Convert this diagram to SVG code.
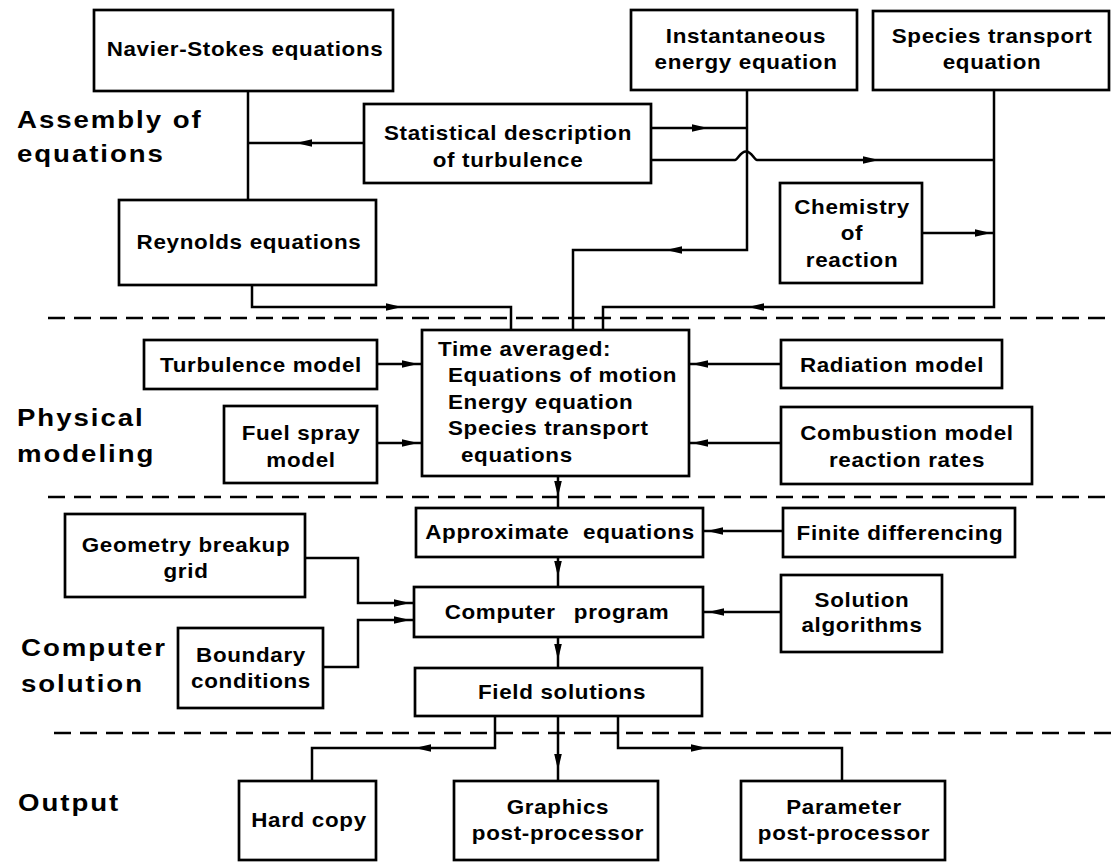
<svg xmlns="http://www.w3.org/2000/svg" width="1111" height="862" viewBox="0 0 1111 862">
  <style>
    .box { fill: #fff; stroke: #000; stroke-width: 2.7; }
    .t { font-family: "Liberation Sans", Arial, Helvetica, sans-serif; font-weight: bold; font-size: 20px; letter-spacing: 0.6px; fill: #000; text-anchor: middle; }
    .tl { text-anchor: start; }
    .lbl { font-family: "Liberation Sans", Arial, Helvetica, sans-serif; font-weight: bold; font-size: 24px; letter-spacing: 1.7px; fill: #000; }
    .ln { fill: none; stroke: #000; stroke-width: 2.5; }
    .dash { fill: none; stroke: #000; stroke-width: 2.5; stroke-dasharray: 17 9; }
    .ah { fill: #000; }
  </style>
  <defs>
    <!-- arrowhead, tip at the origin, pointing along +x -->
    <path id="ah" d="M0,0 L-16,-3.8 L-16,3.8 Z"/>
  </defs>
  <rect width="1111" height="862" fill="#fff"/>

  <!-- section dividers -->
  <g id="dividers">
    <line class="dash" x1="48" y1="318" x2="1111" y2="318"/>
    <line class="dash" x1="48" y1="497" x2="1111" y2="497"/>
    <line class="dash" x1="54" y1="733" x2="1111" y2="733"/>
  </g>

  <!-- section labels (wide grotesque: glyphs stretched horizontally) -->
  <g id="labels">
    <text class="lbl" transform="translate(17,128) scale(1.15 1)">Assembly of</text>
    <text class="lbl" transform="translate(17,162) scale(1.15 1)">equations</text>
    <text class="lbl" transform="translate(17,426) scale(1.15 1)">Physical</text>
    <text class="lbl" transform="translate(17,462) scale(1.15 1)">modeling</text>
    <text class="lbl" transform="translate(21,656) scale(1.15 1)">Computer</text>
    <text class="lbl" transform="translate(21,692) scale(1.15 1)">solution</text>
    <text class="lbl" transform="translate(18,811) scale(1.15 1)">Output</text>
  </g>

  <!-- connectors -->
  <g id="connectors">
    <path class="ln" d="M248,91 V200"/>
    <path class="ln" d="M364,143 H248"/>
    <path class="ln" d="M651,128 H747"/>
    <path class="ln" d="M747,90 V250 H573 V330"/>
    <path class="ln" d="M651,160 H735 C738,160 740,151.5 746,151.5 C752,151.5 754,160 757,160 H994"/>
    <path class="ln" d="M922,233 H994"/>
    <path class="ln" d="M994,90 V307 H603 V330"/>
    <path class="ln" d="M252,285 V307 H511 V330"/>
    <path class="ln" d="M377,364 H422"/>
    <path class="ln" d="M377,443 H422"/>
    <path class="ln" d="M781,364 H689"/>
    <path class="ln" d="M781,443 H689"/>
    <path class="ln" d="M558,476 V508"/>
    <path class="ln" d="M783,531 H703"/>
    <path class="ln" d="M558,557 V587"/>
    <path class="ln" d="M305,558 H358 V603 H414"/>
    <path class="ln" d="M323,667 H358 V620 H414"/>
    <path class="ln" d="M781,612 H703"/>
    <path class="ln" d="M558,637 V668"/>
    <path class="ln" d="M495,716 V748 H312 V780"/>
    <path class="ln" d="M558,716 V781"/>
    <path class="ln" d="M618,716 V748 H842 V781"/>

    <use href="#ah" class="ah" transform="translate(296,143) rotate(180)"/>
    <use href="#ah" class="ah" transform="translate(708,128)"/>
    <use href="#ah" class="ah" transform="translate(879,160)"/>
    <use href="#ah" class="ah" transform="translate(991,233)"/>
    <use href="#ah" class="ah" transform="translate(666,250) rotate(180)"/>
    <use href="#ah" class="ah" transform="translate(748,307) rotate(180)"/>
    <use href="#ah" class="ah" transform="translate(402,307)"/>
    <use href="#ah" class="ah" transform="translate(418,364)"/>
    <use href="#ah" class="ah" transform="translate(418,443)"/>
    <use href="#ah" class="ah" transform="translate(692,364) rotate(180)"/>
    <use href="#ah" class="ah" transform="translate(692,443) rotate(180)"/>
    <use href="#ah" class="ah" transform="translate(558,497) rotate(90)"/>
    <use href="#ah" class="ah" transform="translate(707,531) rotate(180)"/>
    <use href="#ah" class="ah" transform="translate(558,577) rotate(90)"/>
    <use href="#ah" class="ah" transform="translate(410,603)"/>
    <use href="#ah" class="ah" transform="translate(410,620)"/>
    <use href="#ah" class="ah" transform="translate(708,612) rotate(180)"/>
    <use href="#ah" class="ah" transform="translate(558,660) rotate(90)"/>
    <use href="#ah" class="ah" transform="translate(415,748) rotate(180)"/>
    <use href="#ah" class="ah" transform="translate(558,770) rotate(90)"/>
    <use href="#ah" class="ah" transform="translate(707,748)"/>
  </g>

  <!-- nodes -->
  <g id="navier-stokes">
    <rect class="box" x="94" y="10" width="299" height="81"/>
    <text class="t" transform="translate(245,56) scale(1.12 1)">Navier-Stokes equations</text>
  </g>
  <g id="instantaneous-energy">
    <rect class="box" x="631" y="10" width="226" height="80"/>
    <text class="t" transform="translate(746,43) scale(1.12 1)">Instantaneous</text>
    <text class="t" transform="translate(746,69) scale(1.12 1)">energy equation</text>
  </g>
  <g id="species-transport">
    <rect class="box" x="873" y="11" width="236" height="79"/>
    <text class="t" transform="translate(992,43) scale(1.12 1)">Species transport</text>
    <text class="t" transform="translate(992,69) scale(1.12 1)">equation</text>
  </g>
  <g id="statistical-turbulence">
    <rect class="box" x="364" y="104" width="287" height="79"/>
    <text class="t" transform="translate(508,140) scale(1.12 1)">Statistical description</text>
    <text class="t" transform="translate(508,167) scale(1.12 1)">of turbulence</text>
  </g>
  <g id="reynolds">
    <rect class="box" x="119" y="200" width="257" height="85"/>
    <text class="t" transform="translate(249,249) scale(1.12 1)">Reynolds equations</text>
  </g>
  <g id="chemistry">
    <rect class="box" x="780" y="183" width="142" height="100"/>
    <text class="t" transform="translate(852,214) scale(1.12 1)">Chemistry</text>
    <text class="t" transform="translate(852,240) scale(1.12 1)">of</text>
    <text class="t" transform="translate(852,267) scale(1.12 1)">reaction</text>
  </g>
  <g id="turbulence-model">
    <rect class="box" x="144" y="340" width="233" height="49"/>
    <text class="t" transform="translate(261,372) scale(1.12 1)">Turbulence model</text>
  </g>
  <g id="fuel-spray">
    <rect class="box" x="224" y="406" width="153" height="77"/>
    <text class="t" transform="translate(301,440) scale(1.12 1)">Fuel spray</text>
    <text class="t" transform="translate(301,467) scale(1.12 1)">model</text>
  </g>
  <g id="time-averaged">
    <rect class="box" x="422" y="330" width="267" height="146"/>
    <text class="t tl" transform="translate(438,356) scale(1.12 1)">Time averaged:</text>
    <text class="t tl" transform="translate(448,382) scale(1.12 1)">Equations of motion</text>
    <text class="t tl" transform="translate(448,409) scale(1.12 1)">Energy equation</text>
    <text class="t tl" transform="translate(448,435) scale(1.12 1)">Species transport</text>
    <text class="t tl" transform="translate(461,462) scale(1.12 1)">equations</text>
  </g>
  <g id="radiation-model">
    <rect class="box" x="781" y="340" width="221" height="48"/>
    <text class="t" transform="translate(892,372) scale(1.12 1)">Radiation model</text>
  </g>
  <g id="combustion-model">
    <rect class="box" x="781" y="407" width="251" height="77"/>
    <text class="t" transform="translate(907,440) scale(1.12 1)">Combustion model</text>
    <text class="t" transform="translate(907,467) scale(1.12 1)">reaction rates</text>
  </g>
  <g id="geometry">
    <rect class="box" x="65" y="514" width="240" height="83"/>
    <text class="t" transform="translate(186,552) scale(1.12 1)">Geometry breakup</text>
    <text class="t" transform="translate(186,578) scale(1.12 1)">grid</text>
  </g>
  <g id="approximate-equations">
    <rect class="box" x="416" y="508" width="287" height="49"/>
    <text class="t" word-spacing="6" transform="translate(560,539) scale(1.12 1)">Approximate equations</text>
  </g>
  <g id="finite-differencing">
    <rect class="box" x="783" y="508" width="232" height="49"/>
    <text class="t" transform="translate(900,540) scale(1.12 1)">Finite differencing</text>
  </g>
  <g id="computer-program">
    <rect class="box" x="414" y="587" width="289" height="50"/>
    <text class="t" word-spacing="10" transform="translate(557,619) scale(1.12 1)">Computer program</text>
  </g>
  <g id="solution-algorithms">
    <rect class="box" x="781" y="575" width="161" height="77"/>
    <text class="t" transform="translate(862,607) scale(1.12 1)">Solution</text>
    <text class="t" transform="translate(862,632) scale(1.12 1)">algorithms</text>
  </g>
  <g id="boundary-conditions">
    <rect class="box" x="178" y="628" width="145" height="80"/>
    <text class="t" transform="translate(251,662) scale(1.12 1)">Boundary</text>
    <text class="t" transform="translate(251,688) scale(1.12 1)">conditions</text>
  </g>
  <g id="field-solutions">
    <rect class="box" x="415" y="668" width="287" height="48"/>
    <text class="t" transform="translate(562,699) scale(1.12 1)">Field solutions</text>
  </g>
  <g id="hard-copy">
    <rect class="box" x="239" y="781" width="137" height="79"/>
    <text class="t" transform="translate(309,827) scale(1.12 1)">Hard copy</text>
  </g>
  <g id="graphics-post-processor">
    <rect class="box" x="454" y="781" width="204" height="79"/>
    <text class="t" transform="translate(558,814) scale(1.12 1)">Graphics</text>
    <text class="t" transform="translate(558,840) scale(1.12 1)">post-processor</text>
  </g>
  <g id="parameter-post-processor">
    <rect class="box" x="741" y="781" width="204" height="79"/>
    <text class="t" transform="translate(844,814) scale(1.12 1)">Parameter</text>
    <text class="t" transform="translate(844,840) scale(1.12 1)">post-processor</text>
  </g>
</svg>
